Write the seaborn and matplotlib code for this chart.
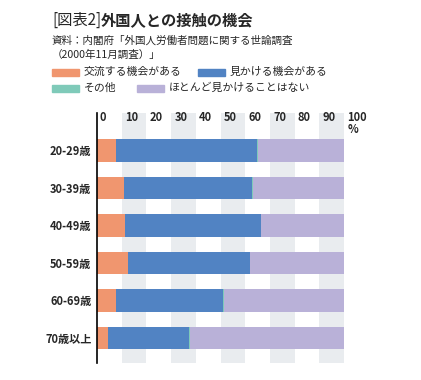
import numpy as np
import pandas as pd
import seaborn as sns
import matplotlib.pyplot as plt
from matplotlib.patches import Rectangle

ages = ["20-29歳", "30-39歳", "40-49歳", "50-59歳", "60-69歳", "70歳以上"]
exchange = [7.6, 10.8, 11.2, 12.7, 7.6, 4.6]
see = [57.3, 51.9, 55.0, 49.1, 43.4, 32.6]
other = [0.4, 0.3, 0.3, 0.3, 0.3, 0.4]
never = [100 - a - b - c for a, b, c in zip(exchange, see, other)]

series = ["交流する機会がある", "見かける機会がある", "その他", "ほとんど見かけることはない"]
colors = ["#F0966F", "#5183C3", "#7FCAB9", "#B9B1D8"]
ticks = [0, 10, 20, 30, 40, 50, 60, 70, 80, 90, 100]

sns.set_theme(style="white")
plt.rcParams['font.family'] = ['Noto Sans CJK JP', 'DejaVu Sans']

df = pd.DataFrame({"age": ages, "exchange": exchange, "see": see,
                   "other": other, "never": never})
cols = ["exchange", "see", "other", "never"]
cum = df[cols].cumsum(axis=1)

fig = plt.figure(figsize=(4.21, 3.80), dpi=100)
W, H = 421, 380
ax = fig.add_axes([97 / W, 1 - 363 / H, (344 - 97) / W, (363 - 113) / H])

# grey bands behind the bars
for lo in range(10, 100, 20):
    ax.axvspan(lo, lo + 10, color="#E9ECEF", zorder=0, lw=0)

# stacked bars: draw the longest first
for col, c in reversed(list(zip(cols, colors))):
    sns.barplot(x=cum[col], y=df["age"], color=c, orient="h", width=0.6,
                ax=ax, zorder=2, saturation=1, linewidth=0)

ax.set_xlim(0, 100)
ax.set_ylim(5.67, -1.0)
ax.set_xlabel("")
ax.set_ylabel("")
ax.set_xticks([])
ax.tick_params(axis="y", length=0, pad=4)
for lab in ax.get_yticklabels():
    lab.set_fontweight("bold")
    lab.set_fontsize(8)
for s in ["top", "right", "bottom"]:
    ax.spines[s].set_visible(False)
ax.spines["left"].set_color("black")
ax.spines["left"].set_linewidth(1.2)

# tick labels at the top inside the plot
for t in ticks:
    ax.text(t + 1.3 if t else 1.2, -0.88, str(t), ha="left", va="center",
            fontsize=8, fontweight="bold", zorder=3)
ax.text(101.3, -0.55, "%", ha="left", va="center", fontsize=8,
        fontweight="bold", zorder=3)

# title and source
fig.text(52 / W, 1 - 20 / H, "[図表2]", fontsize=11, va="center", ha="left")
fig.text(101 / W, 1 - 20 / H, "外国人との接触の機会", fontsize=11,
         fontweight="bold", va="center", ha="left")
fig.text(52 / W, 1 - 41 / H, "資料：内閣府「外国人労働者問題に関する世論調査",
         fontsize=7.6, va="center", ha="left")
fig.text(52 / W, 1 - 55 / H, "（2000年11月調査）」", fontsize=7.6,
         va="center", ha="left")

# legend
leg = [(52, 72, 0), (198, 72, 1), (52, 88, 2), (137, 88, 3)]
for x, y, i in leg:
    fig.add_artist(Rectangle((x / W, 1 - (y + 3.5) / H), 27 / W, 7 / H,
                             color=colors[i], transform=fig.transFigure))
    fig.text((x + 32) / W, 1 - y / H, series[i], fontsize=7.8,
             va="center", ha="left")

fig.savefig("out.png", dpi=100)
